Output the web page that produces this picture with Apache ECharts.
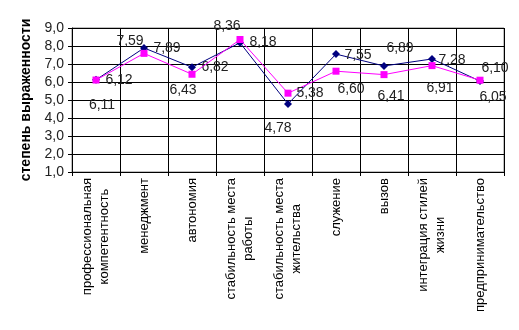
<!DOCTYPE html>
<html>
<head>
<meta charset="utf-8">
<script src="https://cdn.jsdelivr.net/npm/echarts@6/dist/echarts.min.js"></script>
<style>
  html, body { margin: 0; padding: 0; background: #fff; }
  #chart { width: 519px; height: 330px; }
</style>
</head>
<body>
<div id="chart"></div>
<script>
// Career anchors: category names (line breaks as printed under the axis)
const categories = [
  'профессиональная\nкомпетентность',
  'менеджмент',
  'автономия',
  'стабильность места\nработы',
  'стабильность места\nжительства',
  'служение',
  'вызов',
  'интеграция стилей\nжизни',
  'предпринимательство'
];

// Two groups of mean scores
const seriesA = [6.12, 7.89, 6.82, 8.18, 4.78, 7.55, 6.89, 7.28, 6.05];
const seriesB = [6.11, 7.59, 6.43, 8.36, 5.38, 6.60, 6.41, 6.91, 6.10];

const yTicks = { min: 1, max: 9, step: 1 };
const yTitle = 'степень выраженности';

// Where each value label sits relative to its marker (px)
const offsetsA = [[23, 0], [23, 0], [23, 0], [23, -1], [-10, 24], [22, 1], [16, -18], [20, 1], [13, 16]];
const offsetsB = [[6, 25], [-14, -12], [-9, 16], [-13, -13], [22, 0], [15, 18], [7, 22], [8, 23], [15, -12]];

const FONT = '"Liberation Sans", Arial, sans-serif';
const comma = v => v.toFixed(2).replace('.', ',');

function withLabels(values, offsets) {
  return values.map((v, i) => ({
    value: v,
    label: { offset: offsets[i] }
  }));
}

const chart = echarts.init(document.getElementById('chart'), null, { renderer: 'canvas' });

chart.setOption({
  animation: false,
  backgroundColor: '#ffffff',
  grid: { left: 72, right: 15, top: 28, bottom: 158, containLabel: false,
          show: true, borderColor: '#808080', borderWidth: 1 },
  xAxis: {
    type: 'category',
    data: categories,
    boundaryGap: true,
    axisLine: { show: true, lineStyle: { color: '#000', width: 1 } },
    axisTick: { show: true, interval: 0, length: 4, lineStyle: { color: '#000' } },
    splitLine: { show: true, interval: 0, lineStyle: { color: '#000', width: 1 } },
    axisLabel: {
      interval: 0,
      rotate: 90,
      margin: 6,
      color: '#000',
      fontFamily: FONT,
      fontSize: 13,
      lineHeight: 17,
      formatter: s => s.split('\n').map(l => '{c|' + l + '}').join('\n'),
      rich: { c: { align: 'center', fontFamily: FONT, fontSize: 13, lineHeight: 17, color: '#000' } }
    }
  },
  yAxis: {
    type: 'value',
    min: yTicks.min,
    max: yTicks.max,
    interval: yTicks.step,
    name: yTitle,
    nameLocation: 'middle',
    nameRotate: 90,
    nameGap: 38,
    nameTextStyle: { fontFamily: FONT, fontSize: 14, fontWeight: 'bold', color: '#000' },
    axisLine: { show: true, lineStyle: { color: '#000', width: 1 } },
    axisTick: { show: true, length: 4, lineStyle: { color: '#000' } },
    splitLine: { show: true, lineStyle: { color: '#000', width: 1 } },
    axisLabel: {
      margin: 8,
      color: '#222',
      fontFamily: FONT,
      fontSize: 14,
      formatter: v => v.toFixed(1).replace('.', ',')
    }
  },
  series: [
    {
      type: 'line',
      data: withLabels(seriesA, offsetsA),
      color: '#000080',
      lineStyle: { color: '#000080', width: 1 },
      symbol: 'diamond',
      symbolSize: 8,
      itemStyle: { color: '#000080' },
      label: {
        show: true, position: 'inside', align: 'center', verticalAlign: 'middle',
        color: '#222', fontFamily: FONT, fontSize: 14,
        formatter: p => comma(p.value)
      },
      z: 2
    },
    {
      type: 'line',
      data: withLabels(seriesB, offsetsB),
      color: '#ff00ff',
      lineStyle: { color: '#ff00ff', width: 1 },
      symbol: 'rect',
      symbolSize: 7,
      itemStyle: { color: '#ff00ff' },
      label: {
        show: true, position: 'inside', align: 'center', verticalAlign: 'middle',
        color: '#222', fontFamily: FONT, fontSize: 14,
        formatter: p => comma(p.value)
      },
      z: 3
    }
  ]
});
</script>
</body>
</html>
